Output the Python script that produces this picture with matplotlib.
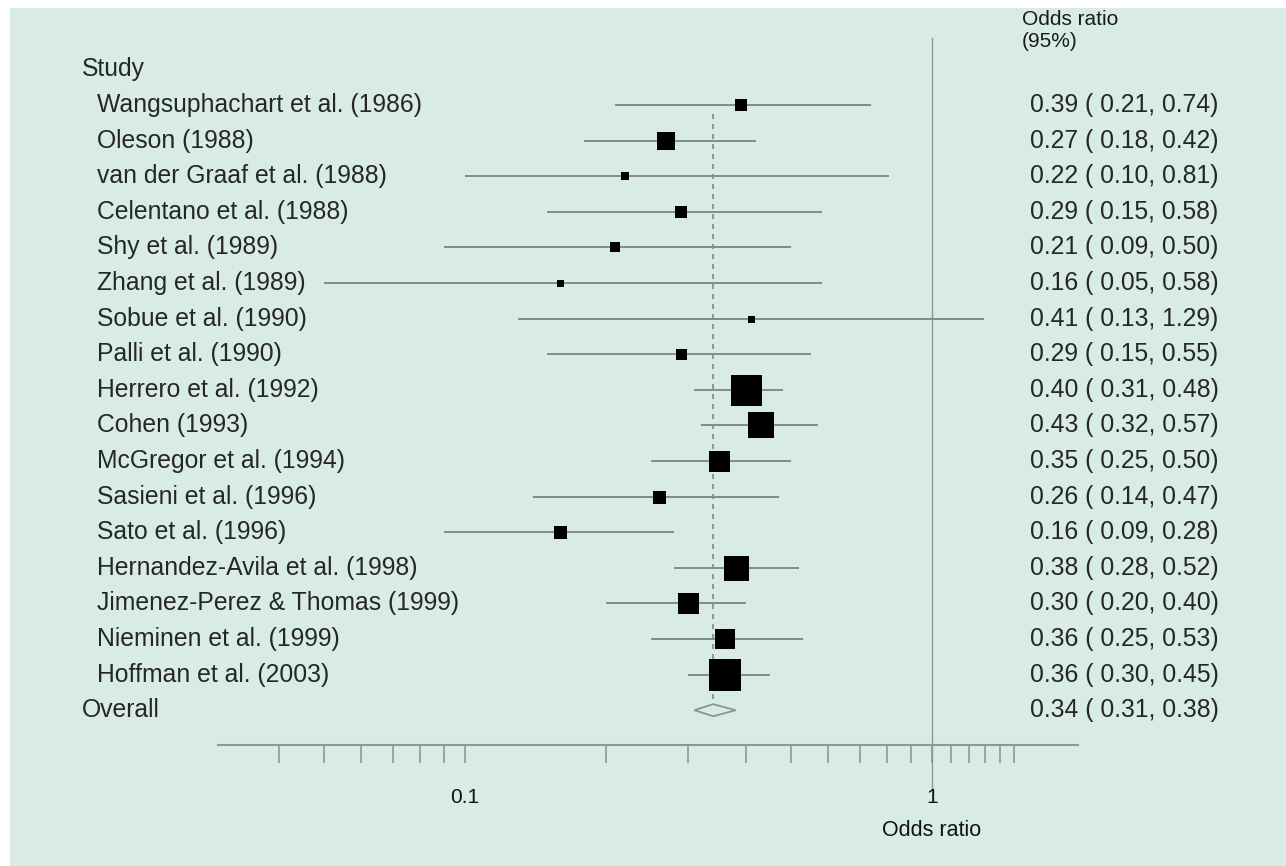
import matplotlib
matplotlib.use("Agg")
import matplotlib.pyplot as plt
import matplotlib.transforms as mtransforms
from matplotlib.patches import Rectangle, Polygon
from matplotlib.ticker import FixedLocator, NullFormatter, FixedFormatter
import numpy as np

studies = [
    "Wangsuphachart et al. (1986)", "Oleson (1988)", "van der Graaf et al. (1988)",
    "Celentano et al. (1988)", "Shy et al. (1989)", "Zhang et al. (1989)",
    "Sobue et al. (1990)", "Palli et al. (1990)", "Herrero et al. (1992)",
    "Cohen (1993)", "McGregor et al. (1994)", "Sasieni et al. (1996)",
    "Sato et al. (1996)", "Hernandez-Avila et al. (1998)",
    "Jimenez-Perez & Thomas (1999)", "Nieminen et al. (1999)", "Hoffman et al. (2003)",
]
odds = [0.39, 0.27, 0.22, 0.29, 0.21, 0.16, 0.41, 0.29, 0.40, 0.43, 0.35, 0.26, 0.16, 0.38, 0.30, 0.36, 0.36]
lower = [0.21, 0.18, 0.10, 0.15, 0.09, 0.05, 0.13, 0.15, 0.31, 0.32, 0.25, 0.14, 0.09, 0.28, 0.20, 0.25, 0.30]
upper = [0.74, 0.42, 0.81, 0.58, 0.50, 0.58, 1.29, 0.55, 0.48, 0.57, 0.50, 0.47, 0.28, 0.52, 0.40, 0.53, 0.45]
# relative box sizes (study weights)
box_size = [12, 18, 8, 12, 10, 7, 7, 11, 31, 26, 21, 13, 13, 25, 21, 20, 32]
overall = (0.34, 0.31, 0.38)

major_ticks = [0.1, 1]
major_labels = ["0.1", "1"]
minor_ticks = [0.04, 0.05, 0.06, 0.07, 0.08, 0.09, 0.2, 0.3, 0.4, 0.5, 0.6, 0.7, 0.8, 0.9, 1.1, 1.2, 1.3, 1.4, 1.5]

W, H = 1286, 866
DPI = 100
fig = plt.figure(figsize=(W / DPI, H / DPI), dpi=DPI, facecolor="white")
BG = "#d8ece4"
fig.patches.append(Rectangle((10 / W, 0), 1 - 10 / W, 1 - 8 / H, transform=fig.transFigure,
                             facecolor=BG, edgecolor="none", zorder=-10))

ax_left, ax_right = 218, 1078
ax_top, ax_bottom = 30, 745
ax = fig.add_axes([ax_left / W, 1 - ax_bottom / H, (ax_right - ax_left) / W, (ax_bottom - ax_top) / H])
ax.set_zorder(5)
ax.set_facecolor("none")
ax.set_xscale("log")
ax.set_xlim(0.0296, 2.054)
row0, step = 105, 35.6
ax.set_ylim((ax_bottom - row0) / step, (ax_top - row0) / step)

for s in ["top", "right", "left"]:
    ax.spines[s].set_visible(False)
ax.spines["bottom"].set_color("#8c9893")
ax.spines["bottom"].set_linewidth(1.5)
ax.set_yticks([])

ax.xaxis.set_major_locator(FixedLocator(major_ticks))
ax.xaxis.set_major_formatter(FixedFormatter(major_labels))
ax.xaxis.set_minor_locator(FixedLocator(minor_ticks))
ax.xaxis.set_minor_formatter(NullFormatter())
ax.tick_params(axis="x", which="both", direction="out", length=13, width=1.2, color="#8c9893")
ax.tick_params(axis="x", which="major", pad=18, labelsize=15, labelcolor="#111111")
for lab in ax.get_xticklabels():
    lab.set_family(["Liberation Sans Narrow", "Liberation Sans"])

line_col = "#808c86"
pt = 72 / DPI
for i, (o, lo, hi, bs) in enumerate(zip(odds, lower, upper, box_size)):
    ax.plot([lo, hi], [i, i], color=line_col, lw=1.4, zorder=2, solid_capstyle="butt")
    ax.plot([o], [i], marker="s", markersize=bs * pt, color="black", markeredgewidth=0, zorder=3)

n = len(studies)
# overall diamond
o, lo, hi = overall
dh = 0.17
diamond = Polygon([[lo, n], [o, n - dh], [hi, n], [o, n + dh]], closed=True,
                  facecolor="none", edgecolor="#8a9590", lw=1.3, zorder=3)
ax.add_patch(diamond)
ax.plot([o, o], [0.25, n - dh], color="#7f8b85", lw=1.2, ls=(0, (3, 3)), zorder=1)

# line of no effect
ax.axvline(1, ymin=-0.063, ymax=0.989, color="#8c9893", lw=1.0, clip_on=False, zorder=1)

# labels
tr = mtransforms.blended_transform_factory(fig.transFigure, ax.transData)
txt_kw = dict(fontsize=17.8, color="#262626", family=["Liberation Sans"], va="center")
ax.text(82 / W, -1, "Study", transform=tr, **txt_kw)
for i, name in enumerate(studies):
    ax.text(97 / W, i, name, transform=tr, **txt_kw)
ax.text(82 / W, n, "Overall", transform=tr, **txt_kw)

for i, (o_, lo_, hi_) in enumerate(zip(odds, lower, upper)):
    ax.text(1030 / W, i, f"{o_:.2f} ( {lo_:.2f}, {hi_:.2f})", transform=tr, **txt_kw)
ax.text(1030 / W, n, f"{overall[0]:.2f} ( {overall[1]:.2f}, {overall[2]:.2f})", transform=tr, **txt_kw)

fig.text(1022 / W, 1 - 10 / H, "Odds ratio\n(95%)", ha="left", va="top", fontsize=15,
         color="#1a1a1a", family=["Liberation Sans"], linespacing=1.2)

trx = mtransforms.blended_transform_factory(ax.transData, fig.transFigure)
ax.text(1, 1 - 830 / H, "Odds ratio", transform=trx, ha="center", va="center", fontsize=15.5,
        color="#111111", family=["Liberation Sans Narrow", "Liberation Sans"])

fig.savefig("out.png", dpi=DPI, facecolor="white")
